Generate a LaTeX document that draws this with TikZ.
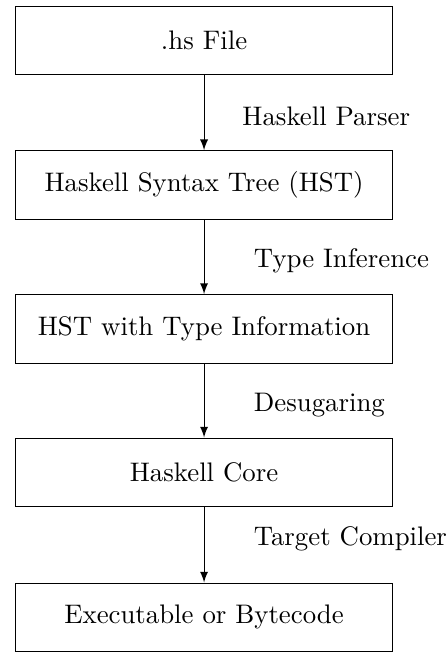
\documentclass[tikz,border=0pt]{standalone}
\usetikzlibrary{positioning}
\tikzset{stagebox/.style={draw, minimum width=4.93cm, minimum height=0.9cm},
  passlabel/.style={anchor=west, inner sep=0pt}}
\begin{document}
\begin{tikzpicture}[>=latex]
\useasboundingbox (0,0) rectangle (5.86,-8.57);

\node[stagebox] (src) at (2.674,-0.53) {.hs File};
\node[stagebox] (hst) at (2.674,-2.425) {Haskell Syntax Tree (HST)};
\node[stagebox] (typed) at (2.674,-4.31) {HST with Type Information};
\node[stagebox] (core) at (2.674,-6.19) {Haskell Core};
\node[stagebox] (exe) at (2.674,-8.09) {Executable or Bytecode};

\draw[->] (src) -- (hst);
\draw[->] (hst) -- (typed);
\draw[->] (typed) -- (core);
\draw[->] (core) -- (exe);

\node[passlabel] (parser) at (3.17,-1.52) {Haskell Parser};
\node[passlabel] (infer) at (3.32,-3.42) {Type Inference};
\node[passlabel] (desugar) at (3.32,-5.31) {Desugaring};
\node[passlabel] (target) at (3.32,-7.06) {Target Compiler};
\end{tikzpicture}
\end{document}
